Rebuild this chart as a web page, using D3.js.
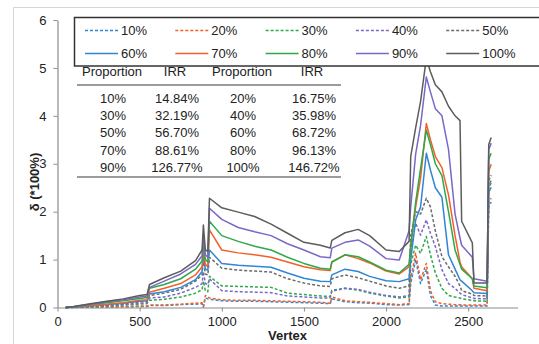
<!DOCTYPE html>
<html>
<head>
<meta charset="utf-8">
<script src="https://cdn.jsdelivr.net/npm/d3@7"></script>
<style>
  body { margin: 0; background: #fff; }
  svg { display: block; font-family: "Liberation Sans", Arial, sans-serif; }
</style>
</head>
<body>
<div id="chart"></div>
<script>
// vertex positions shared by all series
var vertex = [50, 100, 200, 300, 400, 500, 545, 560, 650, 750, 840, 880, 888, 900, 915, 925,
  1000, 1100, 1200, 1300, 1400, 1500, 1600, 1660, 1670, 1750, 1830, 1900, 2000, 2080, 2140,
  2150, 2180, 2210, 2245, 2270, 2300, 2340, 2380, 2420, 2450, 2460, 2525, 2535, 2615, 2625, 2640];

var p10 = [0, 0.002, 0.006, 0.01, 0.015, 0.02, 0.02, 0.04, 0.04, 0.06, 0.07, 0.08, 0.01, 0.2, 0.18, 0.17,
  0.14, 0.13, 0.13, 0.12, 0.11, 0.1, 0.09, 0.08, 0.18, 0.12, 0.1, 0.09, 0.06, 0.05, 0.06,
  0.5, 1.0, 0.5, 0.8, 0.25, 0.05, 0.03, 0.03, 0.03, 0.03, 0.03, 0.03, 0.03, 0.03, 2.1, 2.2];
var p20 = [0, 0.003, 0.008, 0.015, 0.02, 0.03, 0.03, 0.05, 0.05, 0.07, 0.09, 0.1, 0.02, 0.25, 0.22, 0.2,
  0.16, 0.15, 0.15, 0.14, 0.13, 0.12, 0.11, 0.09, 0.22, 0.14, 0.12, 0.11, 0.08, 0.06, 0.08,
  0.6, 1.13, 0.58, 0.92, 0.35, 0.12, 0.08, 0.07, 0.06, 0.06, 0.05, 0.05, 0.05, 0.05, 2.2, 2.28];
var p30 = [0, 0.005, 0.015, 0.03, 0.05, 0.07, 0.08, 0.15, 0.17, 0.22, 0.3, 0.37, 0.55, 0.35, 0.33, 0.65,
  0.45, 0.44, 0.43, 0.42, 0.3, 0.27, 0.24, 0.23, 0.36, 0.4, 0.36, 0.3, 0.24, 0.2, 0.22,
  0.9, 1.3, 1.13, 1.48, 1.1, 0.72, 0.4, 0.25, 0.22, 0.2, 0.18, 0.15, 0.14, 0.13, 2.5, 2.6];
var p40 = [0, 0.005, 0.02, 0.04, 0.06, 0.09, 0.1, 0.2, 0.22, 0.3, 0.42, 0.5, 0.75, 0.5, 0.48, 0.6,
  0.35, 0.33, 0.32, 0.31, 0.24, 0.22, 0.2, 0.2, 0.34, 0.4, 0.38, 0.32, 0.25, 0.22, 0.25,
  1.2, 1.76, 1.51, 1.83, 1.55, 1.27, 0.79, 0.5, 0.4, 0.3, 0.27, 0.2, 0.19, 0.18, 2.55, 2.65];
var p50 = [0, 0.01, 0.03, 0.05, 0.08, 0.12, 0.13, 0.25, 0.3, 0.38, 0.55, 0.68, 1.0, 0.7, 0.68, 1.05,
  0.82, 0.78, 0.76, 0.74, 0.6, 0.51, 0.45, 0.44, 0.6, 0.68, 0.62, 0.55, 0.45, 0.4, 0.45,
  1.5, 2.0, 1.95, 2.28, 2.1, 1.6, 1.06, 0.85, 0.65, 0.45, 0.35, 0.28, 0.25, 0.24, 2.65, 2.76];
var p60 = [0, 0.01, 0.03, 0.06, 0.09, 0.13, 0.14, 0.28, 0.33, 0.42, 0.58, 0.75, 1.1, 0.8, 0.78, 1.2,
  0.92, 0.88, 0.86, 0.84, 0.72, 0.61, 0.55, 0.54, 0.68, 0.8, 0.75, 0.65, 0.56, 0.54, 0.6,
  0.99, 1.83, 2.1, 3.22, 2.87, 2.5, 2.3, 1.1, 0.8, 0.58, 0.55, 0.35, 0.31, 0.29, 2.4, 2.51];
var p70 = [0, 0.01, 0.04, 0.07, 0.1, 0.15, 0.16, 0.32, 0.4, 0.5, 0.68, 0.85, 1.22, 0.9, 0.85, 1.62,
  1.2, 1.14, 1.1, 1.05, 0.95, 0.85, 0.79, 0.77, 0.95, 1.1, 1.02, 0.93, 0.76, 0.7, 0.85,
  1.31, 2.1, 2.7, 3.84, 3.5, 3.15, 2.92, 2.35, 1.5, 0.95, 0.85, 0.6, 0.4, 0.35, 2.85, 2.99];
var p80 = [0, 0.01, 0.06, 0.1, 0.14, 0.19, 0.21, 0.4, 0.48, 0.6, 0.8, 0.97, 1.35, 1.0, 0.95, 1.8,
  1.5, 1.38, 1.28, 1.2, 1.05, 0.92, 0.82, 0.8, 0.95, 1.1, 1.06, 0.95, 0.78, 0.72, 0.9,
  1.27, 2.2, 2.9, 3.7, 3.4, 3.0, 2.75, 2.0, 1.2, 0.9, 0.8, 0.6, 0.45, 0.41, 3.1, 3.22];
var p90 = [0, 0.02, 0.07, 0.12, 0.16, 0.22, 0.24, 0.42, 0.55, 0.7, 0.9, 1.08, 1.5, 1.1, 1.05, 2.07,
  1.84, 1.67, 1.58, 1.5, 1.33, 1.2, 1.06, 1.04, 1.24, 1.36, 1.41, 1.28, 1.02, 0.99, 1.6,
  2.1, 3.2, 3.8, 4.81, 4.5, 4.15, 4.0, 3.3, 1.95, 1.45, 1.3, 1.05, 0.6, 0.55, 3.3, 3.43];
var p100 = [0, 0.02, 0.08, 0.13, 0.18, 0.25, 0.27, 0.48, 0.62, 0.76, 0.98, 1.2, 1.72, 1.2, 1.17, 2.28,
  2.08, 1.99, 1.9, 1.74, 1.55, 1.36, 1.3, 1.24, 1.4, 1.56, 1.63, 1.5, 1.2, 1.17, 1.38,
  3.15, 3.75, 4.3, 5.2, 4.92, 4.65, 4.5, 4.2, 4.0, 3.9, 1.8, 1.35, 0.51, 0.51, 3.4, 3.55];

var seriesNames = ["10%", "20%", "30%", "40%", "50%", "60%", "70%", "80%", "90%", "100%"];
var seriesValues = [p10, p20, p30, p40, p50, p60, p70, p80, p90, p100];
var seriesColors = ["#2f87d4", "#f2602a", "#2ea84b", "#7b67c7", "#6b6b6b",
                    "#2f87d4", "#f2602a", "#2ea84b", "#7b67c7", "#5c5c5c"];
var seriesDashed = [true, true, true, true, true, false, false, false, false, false];

// table in the chart
var tableHead = ["Proportion", "IRR", "Proportion", "IRR"];
var tableRows = [
  ["10%", "14.84%", "20%", "16.75%"],
  ["30%", "32.19%", "40%", "35.98%"],
  ["50%", "56.70%", "60%", "68.72%"],
  ["70%", "88.61%", "80%", "96.13%"],
  ["90%", "126.77%", "100%", "146.72%"]
];

var xTicks = [0, 500, 1000, 1500, 2000, 2500];
var yTicks = [0, 1, 2, 3, 4, 5, 6];

var W = 539, H = 344;
var plotL = 57.5, plotR = 517.5, plotT = 20, plotB = 307.5;

var svg = d3.select("#chart").append("svg")
  .attr("width", W)
  .attr("height", H);

// outer frame
svg.append("rect")
  .attr("x", 13.5).attr("y", 7.5)
  .attr("width", 540).attr("height", 350)
  .attr("fill", "none")
  .attr("stroke", "#d6d6d6");

var x = d3.scaleLinear().domain([0, 2800]).range([plotL, plotR]);
var y = d3.scaleLinear().domain([0, 6]).range([plotB, plotT]);

// axes
var xAxis = svg.append("g")
  .attr("transform", "translate(0," + plotB + ")")
  .call(d3.axisBottom(x).tickValues(xTicks).tickFormat(d3.format("d"))
    .tickSize(4).tickSizeOuter(0).tickPadding(5));
var yAxis = svg.append("g")
  .attr("transform", "translate(" + plotL + ",0)")
  .call(d3.axisLeft(y).tickValues(yTicks).tickFormat(d3.format("d"))
    .tickSize(4).tickSizeOuter(0).tickPadding(7));

[xAxis, yAxis].forEach(function(a) {
  a.select(".domain").attr("stroke", "#8c8c8c").attr("stroke-width", 1.2);
  a.selectAll(".tick line").attr("stroke", "#8c8c8c");
  a.selectAll(".tick text")
    .attr("font-family", "Liberation Sans, Arial, sans-serif")
    .attr("font-size", 13)
    .attr("fill", "#222");
});

// lines
var line = d3.line()
  .x(function(d) { return x(d[0]); })
  .y(function(d) { return y(d[1]); });

seriesValues.forEach(function(vals, i) {
  var pts = vertex.map(function(v, j) { return [v, vals[j]]; });
  svg.append("path")
    .datum(pts)
    .attr("d", line)
    .attr("fill", "none")
    .attr("stroke", seriesColors[i])
    .attr("stroke-width", 1.5)
    .attr("stroke-linejoin", "round")
    .attr("stroke-dasharray", seriesDashed[i] ? "3,2" : null);
});

// legend
var lg = svg.append("g");
lg.append("rect")
  .attr("x", 74.5).attr("y", 17.5)
  .attr("width", 466).attr("height", 48.5)
  .attr("fill", "#fff")
  .attr("stroke", "#333")
  .attr("stroke-width", 1.5);

seriesNames.forEach(function(name, i) {
  var col = i % 5, row = Math.floor(i / 5);
  var lx = 85 + col * 90.3;
  var ly = row == 0 ? 30.5 : 53.5;
  lg.append("line")
    .attr("x1", lx).attr("x2", lx + 33)
    .attr("y1", ly).attr("y2", ly)
    .attr("stroke", seriesColors[i])
    .attr("stroke-width", 1.5)
    .attr("stroke-dasharray", seriesDashed[i] ? "3,2" : null);
  lg.append("text")
    .attr("x", lx + 36)
    .attr("y", ly + 4.5)
    .attr("font-size", 13)
    .attr("fill", "#222")
    .text(name);
});

// table
var colX = [112, 175, 242, 312];
var tg = svg.append("g").attr("font-size", 13).attr("fill", "#222").attr("text-anchor", "middle");
tableHead.forEach(function(h, i) {
  tg.append("text").attr("x", colX[i]).attr("y", 75.5).text(h);
});
tableRows.forEach(function(r, ri) {
  r.forEach(function(c, ci) {
    tg.append("text")
      .attr("x", colX[ci] + (ci % 2 == 1 ? 2 : 1))
      .attr("y", 102.5 + ri * 17.4)
      .text(c);
  });
});
[85, 177].forEach(function(ly) {
  svg.append("line")
    .attr("x1", 77).attr("x2", 341)
    .attr("y1", ly).attr("y2", ly)
    .attr("stroke", "#7a7a7a")
    .attr("stroke-width", 1.5);
});

// axis titles
svg.append("text")
  .attr("x", (plotL + plotR) / 2)
  .attr("y", 340)
  .attr("text-anchor", "middle")
  .attr("font-size", 13)
  .attr("font-weight", "bold")
  .attr("fill", "#222")
  .text("Vertex");

svg.append("text")
  .attr("transform", "translate(39,182) rotate(-90)")
  .attr("text-anchor", "middle")
  .attr("font-size", 13)
  .attr("font-weight", "bold")
  .attr("fill", "#222")
  .text("δ (*100%)");
</script>
</body>
</html>
